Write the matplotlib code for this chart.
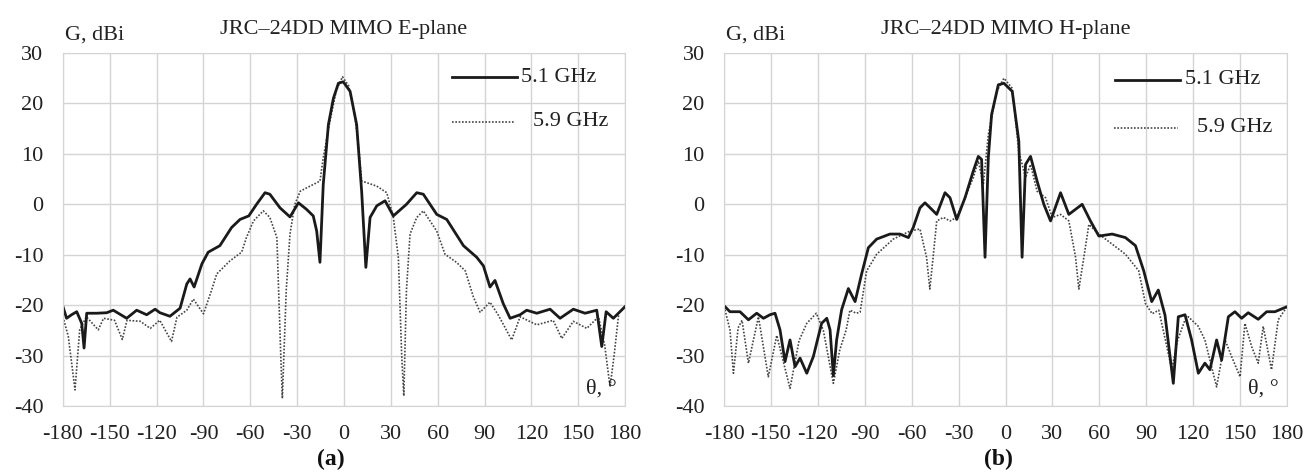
import numpy as np
import matplotlib
matplotlib.use("Agg")
import matplotlib.pyplot as plt
from matplotlib.lines import Line2D

plt.rcParams['font.family'] = ['Liberation Serif', 'DejaVu Serif']
plt.rcParams['axes.unicode_minus'] = False

# ---------------- E-plane ----------------
e51_deg = [-180, -177.7, -174.5, -171.2, -168, -166.5, -164.8, -158.4, -152, -147.8, -139.2, -132.8,
           -126.4, -121, -117.9, -111.5, -105, -100.7, -98.6, -96, -91, -87, -79.5, -72, -66.6, -61,
           -56, -50.6, -47.5, -41, -34.6, -29.2, -24, -19.7, -17.5, -15.4, -13.3, -10, -6.8, -3.6,
           -0.5, 3.9, 8.1, 11.3, 14, 16.7, 21, 26.3, 31.6, 40, 46.6, 50.8, 59.4, 65.8, 76.5, 85,
           89.3, 93.5, 96.7, 102, 106.4, 112.8, 117, 123.5, 132, 138.4, 146.9, 154.4, 161.9, 165.1,
           167.9, 172.5, 180]
e51_db = [-20.3, -22.6, -21.9, -21.3, -23.6, -28.5, -21.6, -21.6, -21.5, -21, -22.6, -21,
          -21.9, -20.8, -21.5, -22.2, -20.6, -15.8, -14.8, -16.4, -11.8, -9.5, -8.2, -4.6, -3, -2.3,
          0, 2.3, 2, -0.7, -2.5, 0.3, -1, -2.3, -5.3, -11.5, 3.9, 15.8, 21, 24,
          24.3, 22.4, 15.8, 2.6, -12.5, -2.6, -0.3, 0.7, -2.3, 0, 2.3, 2, -2, -3, -8.2, -10.5,
          -12.2, -16.4, -15.1, -19.7, -22.6, -21.9, -21, -21.6, -20.8, -22.6, -20.8, -21.6, -21, -28.2,
          -21.3, -22.6, -20.3]

e59_deg = [-180, -176.6, -172.3, -169.3, -165, -157.4, -154, -147, -142, -139, -130.5, -124.1, -118,
           -110.5, -107, -100.7, -96.5, -90, -84.8, -81.5, -73, -65.6, -62.5, -58, -51.7, -47.5, -43,
           -40.5, -39.5, -37, -34.6, -31.5, -28, -21.8, -15.4, -13.3, -9, -5, -1, 3, 7, 9.5, 11.3,
           14.5, 21, 27.4, 31.6, 34.8, 37, 38.3, 40, 42.3, 46.6, 50.8, 59.4, 64.7, 72, 77.7, 82.9,
           87.2, 93.5, 98.9, 107.4, 112.8, 123.5, 134, 139.5, 146.9, 155.5, 163, 167, 170.4, 173,
           176, 180]
e59_db = [-22.3, -26.2, -36.8, -24.9, -22.3, -24.9, -22.6, -23, -26.8, -23, -23.2, -24.6, -23,
          -27.2, -22.4, -21, -18.8, -21.7, -17, -13.8, -11.2, -9.5, -6.6, -3.3, -1.3, -2.6, -6.6,
          -30, -38.5, -17, -5.9, 0, 2.6, 3.6, 4.6, 9.2, 16.5, 22.5, 25.3, 23.5, 17.5, 11, 4.6,
          4.3, 3.6, 2.3, -2.6, -10.5, -30.3, -38, -17, -5.9, -2.6, -1.3, -5.3, -9.9, -11.5, -13.2, -18.4,
          -21.4, -19.4, -22, -26.9, -22.3, -23.9, -23, -26.6, -23.2, -24.6, -22.3, -28, -36.2, -30,
          -21.6, -20.3]

# ---------------- H-plane ----------------
h51_deg = [-179.4, -176.2, -169.8, -164.4, -159.1, -154.8, -150.6, -147.4, -144.2, -141, -137.8,
           -134.6, -131.4, -127.1, -122.9, -117.6, -114.3, -112.2, -110.1, -108, -104.8, -100.5,
           -96.2, -92, -87.7, -82.4, -73.9, -67.5, -62.1, -59, -54.7, -51.5, -47.2, -44, -38.7,
           -35.5, -31.2, -25.9, -20.6, -17.4, -15.3, -13.1, -11, -8.9, -4.6, -1, 4.3, 8.5, 10.6,
           12.8, 16, 20.2, 24.5, 28.8, 35.2, 40.5, 49, 54.3, 59.7, 68.2, 76.7, 83.1, 88.4, 93.5,
           97.7, 102, 107.3, 110.5, 114.8, 119, 123.3, 127.5, 130.7, 135, 138.2, 142.5, 146.7, 151,
           155.2, 161.6, 167, 172.3, 180]
h51_db = [-20.3, -21.3, -21.3, -22.9, -21.6, -22.6, -21.9, -21.6, -24.9, -31.2, -26.9,
          -32.2, -30.5, -33.5, -30.2, -23.6, -22.6, -24.9, -34, -26.9, -20.9, -16.7,
          -19.3, -13.8, -8.6, -6.9, -5.9, -5.9, -6.6, -4.6, -0.7, 0.3, -1, -2, 2.3,
          1.3, -3, 1.3, 6.6, 9.5, 8.9, -10.5, 9.2, 17.8, 23.7, 24, 22.4, 12.5, -10.5,
          7.9, 9.5, 4.6, 0, -3.3, 2.3, -2, 0, -3.3, -6.3, -5.9, -6.6, -8.2, -13.2, -19.3,
          -17, -22, -35.5, -22.3, -21.9, -26.9, -33.5, -31.5, -32.8, -26.9, -30.9, -22.3, -21.3, -22.6,
          -21.5, -22.8, -21.3, -21.3, -20.3]

h59_deg = [-179.4, -176.2, -174, -171, -168.5, -164.4, -158, -151.7, -146.3, -137.8, -132, -127.1,
           -121, -116.5, -110.1, -106, -101.9, -99.5, -95.5, -93, -88.8, -84.5, -82.4, -71.8, -61,
           -54.7, -50.5, -48.4, -46.3, -44, -39.7, -35.5, -31.2, -25.9, -20.6, -17.4, -14.2, -11,
           -5.6, -1, 4.3, 8.5, 12.8, 16, 20.2, 25.6, 29.9, 35.2, 40.5, 44.8, 46.9, 50.1, 53.3,
           59.7, 68.2, 76.7, 85.2, 89.5, 93.8, 98, 102.3, 106.3, 110, 114.8, 116.9, 123.3, 127.5,
           135, 140.4, 144.6, 150, 153.1, 157.4, 161.6, 164.8, 170.1, 174.4, 180]
h59_db = [-20.9, -24.9, -33.5, -24.5, -23, -31.5, -22.3, -34.2, -26, -36.5, -27, -23.6,
          -21.6, -25, -35.5, -28.9, -24.9, -21, -21.6, -21.4, -13.2, -11, -9.9, -6.9, -5.3,
          -4.9, -10.5, -16.8, -10.5, -3.3, -2.6, -3.3, -2.6, 1.3, 5.3, 8.6, 3.9, 13.8,
          22.4, 25, 23, 10.5, 5.3, 7.9, 2.6, 1.3, -2.6, -2, -3.3, -10.5, -16.8, -10.5, -4,
          -5.9, -7.9, -9.9, -13.2, -19.7, -21.7, -21, -27, -32.8, -27, -22.9, -22.3, -24.2, -26.9,
          -36.2, -26.9, -30.2, -34.2, -23.6, -28.2, -31.5, -24.2, -32.8, -22.9, -20.3]

xticks = np.arange(-180, 181, 30)
yticks = np.arange(-40, 31, 10)

fig = plt.figure(figsize=(13.15, 4.73), dpi=100)
ax1 = fig.add_axes([0.0479, 0.1416, 0.4274, 0.7463])
ax2 = fig.add_axes([0.5506, 0.1416, 0.4281, 0.7463])

panels = [
    (ax1, e51_deg, e51_db, e59_deg, e59_db, "JRC\u201324DD MIMO E-plane", "(a)", 0.477,
     (0.692, 0.808, 0.815, 0.932), (0.692, 0.803, 0.836, 0.805)),
    (ax2, h51_deg, h51_db, h59_deg, h59_db, "JRC\u201324DD MIMO H-plane", "(b)", 0.487,
     (0.694, 0.81, 0.819, 0.924), (0.692, 0.806, 0.84, 0.788)),
]

for ax, d1, g1, d2, g2, title, lab, labx, leg1, leg2 in panels:
    ax.plot(d2, g2, color='#444444', lw=1.2, ls=(0, (1, 1)))
    ax.plot(d1, g1, color='#1a1a1a', lw=2.0)
    ax.set_xlim(-180, 180)
    ax.set_ylim(-40, 30)
    ax.set_xticks(xticks)
    ax.set_yticks(yticks)
    ax.grid(True, color='#d4d4d4', lw=1.0)
    ax.set_axisbelow(True)
    for s in ax.spines.values():
        s.set_color('#d4d4d4')
    ax.tick_params(length=0, labelsize=16, colors='#222222')
    ax.tick_params(axis='x', pad=14)
    ax.tick_params(axis='y', pad=14)
    ax.set_title(title, fontsize=16, color='#222222', pad=14)
    ax.text(0.003, 1.025, "G, dBi", transform=ax.transAxes, fontsize=16,
            color='#222222', ha='left', va='bottom')
    ax.text(0.985, 0.02, "\u03b8, \u00b0", transform=ax.transAxes, fontsize=16,
            color='#222222', ha='right', va='bottom')
    ax.text(labx, -0.152, lab, transform=ax.transAxes, fontsize=17, fontweight='bold',
            color='#111111', ha='center', va='center')
    # legend drawn by hand, as in the original
    ax.add_line(Line2D([leg1[0], leg1[1]], [leg1[3], leg1[3]], transform=ax.transAxes,
                       color='#1a1a1a', lw=2.0))
    ax.text(leg1[2], leg1[3], "5.1 GHz", transform=ax.transAxes, fontsize=16,
            color='#222222', ha='left', va='center')
    ax.add_line(Line2D([leg2[0], leg2[1]], [leg2[3], leg2[3]], transform=ax.transAxes,
                       color='#444444', lw=1.2, ls=(0, (1, 1))))
    ax.text(leg2[2], leg2[3], "5.9 GHz", transform=ax.transAxes, fontsize=16,
            color='#222222', ha='left', va='center')

fig.savefig("out.png", dpi=100)
